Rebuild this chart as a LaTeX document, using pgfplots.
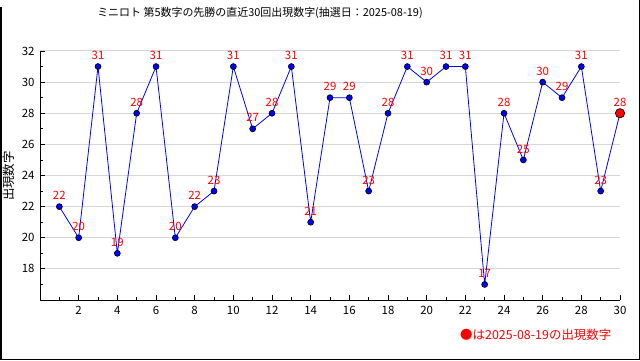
\documentclass[border=0pt]{standalone}
\usepackage{pgfplots}
\pgfplotsset{compat=1.18}
\usepackage{fontspec}
\setmainfont{Noto Sans CJK JP}
\definecolor{pblue}{RGB}{0,0,255}
\definecolor{pred}{RGB}{255,0,0}
\definecolor{pgrid}{RGB}{215,215,215}
\pgfplotstableread{
x y
1 22
2 20
3 31
4 19
5 28
6 31
7 20
8 22
9 23
10 31
11 27
12 28
13 31
14 21
15 29
16 29
17 23
18 28
19 31
20 30
21 31
22 31
23 17
24 28
25 25
26 30
27 29
28 31
29 23
30 28
}\datatable
\pgfplotstableread{
x y
30 28
}\lasttable
\begin{document}
\begin{tikzpicture}[x=1bp,y=1bp]
\useasboundingbox (0,0) rectangle (640,360);
\draw[line width=1.5bp] (0.75,353) -- (0.75,0.75) -- (639.25,0.75) -- (639.25,360);
\begin{axis}[
  at={(40bp,60bp)}, anchor=south west,
  scale only axis, width=580bp, height=249bp,
  xmin=0, xmax=30, ymin=16, ymax=32,
  axis lines=left, axis line style={-, line width=1bp, black},
  tick align=inside,
  xtick={2,4,...,30}, minor xtick={1,3,...,29},
  ytick={18,20,...,32}, minor ytick={17,19,...,31},
  major tick length=5bp, minor tick length=3bp,
  tick style={black, line width=0.8bp},
  ymajorgrids, grid style={pgrid, line width=1bp},
  /pgf/number format/assume math mode=true,
  ticklabel style={font=\fontsize{11.5}{12}\selectfont},
  xticklabel style={yshift=-3bp},
  yticklabel style={xshift=-2bp},
  clip=false,
]
\addplot[pblue, line width=0.8bp, mark=*, mark size=3bp,
  mark options={fill=pblue, draw=black, line width=0.6bp},
  nodes near coords,
  every node near coord/.style={font=\fontsize{11.5}{12}\selectfont, text=pred, anchor=center, yshift=11bp}]
  table[x=x,y=y]{\datatable};
\addplot[only marks, mark=*, mark size=4.7bp, mark options={fill=pred, draw=black, line width=0.6bp}]
  table[x=x,y=y]{\lasttable};
\end{axis}
\node[font=\fontsize{11}{12}\selectfont] at (260,347) {ミニロト 第5数字の先勝の直近30回出現数字(抽選日：2025-08-19)};
\node[rotate=90, font=\fontsize{12.5}{13}\selectfont] at (9,184) {出現数字};
\node[anchor=west, text=pred, font=\fontsize{12.5}{13}\selectfont, inner sep=0pt] at (460,25) {●は2025-08-19の出現数字};
\end{tikzpicture}
\end{document}
